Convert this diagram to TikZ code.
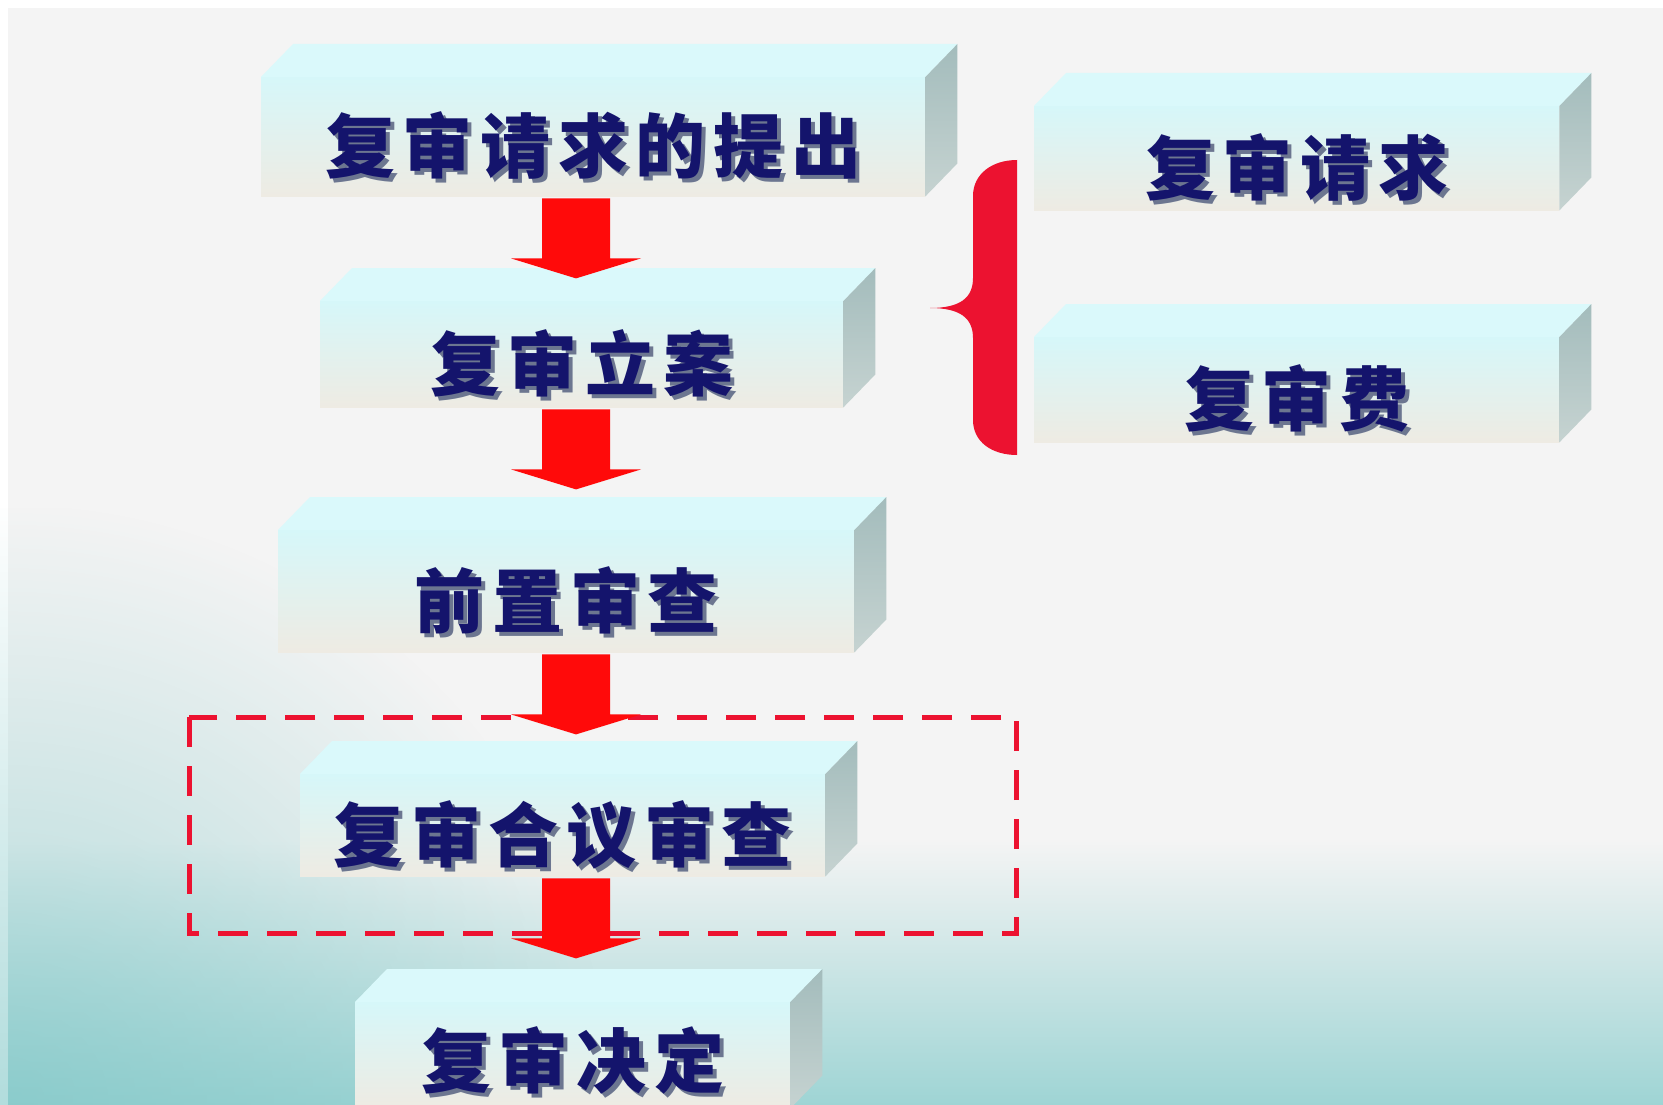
\documentclass[tikz,border=0pt]{standalone}
\usepackage{fontspec}
\newfontfamily\cjk{Noto Sans CJK SC Black}[LetterSpace=11]
\usetikzlibrary{fadings}
\definecolor{bgcol}{HTML}{F4F4F4}
\definecolor{seacol}{HTML}{7EC6C6}
\definecolor{facetop}{HTML}{D6F7F9}
\definecolor{facebot}{HTML}{EEEBE3}
\definecolor{lidcol}{HTML}{DAF9FB}
\definecolor{sidetop}{HTML}{A3BCBC}
\definecolor{sidebot}{HTML}{C6D3D1}
\definecolor{inkcol}{HTML}{14146C}
\definecolor{shadecol}{HTML}{6C7690}
\definecolor{arrowred}{HTML}{FF0A0A}
\definecolor{bracered}{HTML}{EC1230}
\newcommand{\shadowed}[1]{\rlap{\hspace{4pt}\raisebox{-4pt}{\textcolor{shadecol}{#1}}}#1}
\tikzfading[name=cornerfade, inner color=transparent!40, outer color=transparent!100]
\tikzstyle{face}=[inner sep=0pt, anchor=north west, top color=facetop, bottom color=facebot, text=inkcol, font=\cjk\fontsize{70}{70}\selectfont, text height=80pt, text depth=8pt]
\tikzstyle{lid}=[fill=lidcol]
\tikzstyle{flank}=[top color=sidetop, bottom color=sidebot]
\tikzstyle{flowarrow}=[fill=arrowred]
\tikzstyle{stagebox}=[draw=bracered, line width=5pt, dash pattern=on 30pt off 19pt]

\begin{document}
\begin{tikzpicture}[x=1pt, y=-1pt]
        \useasboundingbox (0,0) rectangle (1663,1105);
        \clip (0,0) rectangle (1663,1105);
        \fill[white] (0,0) rectangle (1663,1105);
        \fill[bgcol] (8,8) rectangle (1663,1105);
        \shade[top color=bgcol, bottom color=seacol!75!white] (8,840) rectangle (1663,1105);
        \fill[seacol, path fading=cornerfade] (-592,505) rectangle (608,1705);
        \node[face, minimum width=664pt, minimum height=119pt] (ask) at (261,77) {\shadowed{复审请求的提出}};
        \node[face, minimum width=523pt, minimum height=106pt] (file) at (320,301) {\shadowed{复审立案}};
        \node[face, minimum width=576pt, minimum height=122pt] (pre) at (278,530) {\shadowed{前置审查}};
        \node[face, minimum width=525pt, minimum height=102pt] (panel) at (300,774) {\shadowed{复审合议审查}};
        \node[face, minimum width=435pt, minimum height=106pt, text height=72pt] (decide) at (355,1002) {\shadowed{复审决定}};
        \node[face, minimum width=525pt, minimum height=104pt] (req) at (1034,106) {\shadowed{复审请求}};
        \node[face, minimum width=525pt, minimum height=105pt] (fee) at (1034,337) {\shadowed{复审费}};
        \foreach \b in {ask,file,pre,panel,decide,req,fee}{
            \fill[lid] (\b.north west) -- ++(32,-33) -- ([shift={(32,-33)}]\b.north east) -- (\b.north east) -- cycle;
            \shade[flank] (\b.north east) -- ++(32,-33) -- ([shift={(32,-33)}]\b.south east) -- (\b.south east) -- cycle;
        }
        \coordinate (spine) at (576,0);
        \draw[stagebox] (189,717) rectangle (1016,933);
        \foreach \a in {ask,file,pre,panel}{
            \fill[flowarrow] (\a.south -| spine) ++(-34,2) -- ++(0,60) -- ++(-31,0) -- ++(65,20) -- ++(65,-20) -- ++(-31,0) -- ++(0,-60) -- cycle;
        }
        \coordinate (bracetip) at (930,308);
        \fill[bracered] (1017,160) -- (1017,455) .. controls (992,455) and (973,442) .. (973,420) -- (973,338) .. controls (973,318) and (960,308) .. (bracetip) .. controls (960,308) and (973,298) .. (973,278) -- (973,196) .. controls (973,174) and (992,160) .. (1017,160) -- cycle;
    \end{tikzpicture}
\end{document}
